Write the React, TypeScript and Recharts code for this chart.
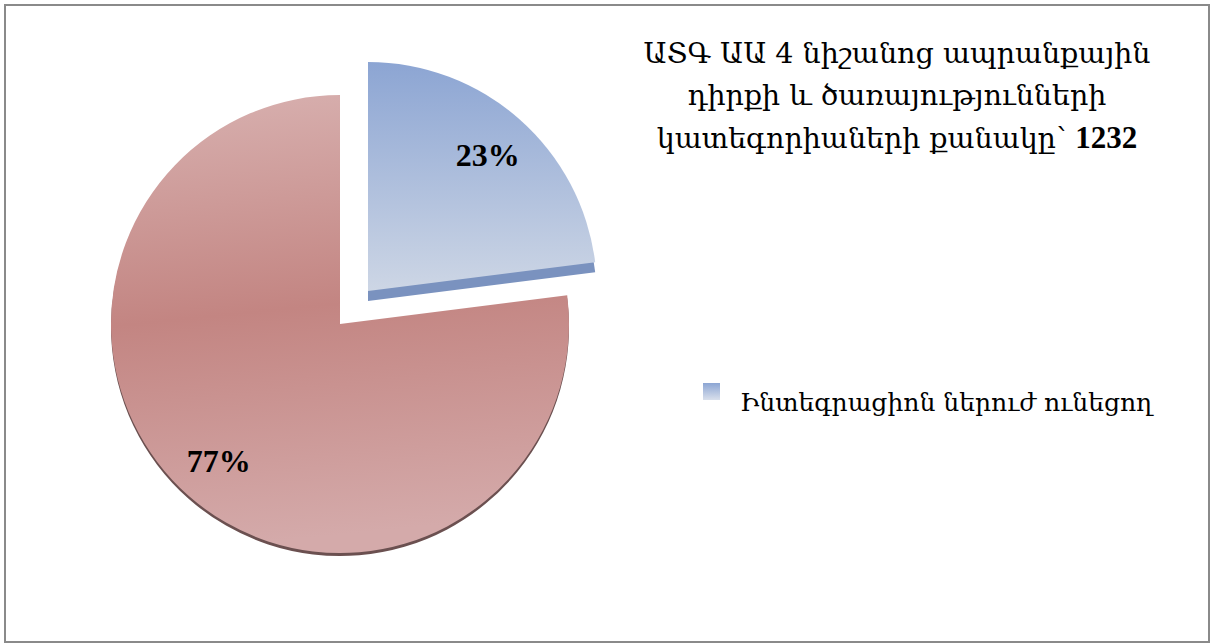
import React from 'react';
import { PieChart, Pie, Cell, Legend } from 'recharts';

const categories = ['Ինտեգրացիոն ներուժ ունեցող', 'Ինտեգրացիոն ներուժ չունեցող'];
const shares = [23, 77];
const titleLines = ['ԱՏԳ ԱԱ 4 նիշանոց ապրանքային', 'դիրքի և ծառայությունների', 'կատեգորիաների քանակը՝ '];
const titleTotal = '1232';

const data = categories.map((name, i) => ({ name, value: shares[i] }));

const ARM_FONT = '"DejaVu Serif", serif';
const RAD = Math.PI / 180;

const makeLabel = (visibleIndex: number, ratio: number) => (props: any) => {
  const { cx, cy, midAngle, outerRadius, index, value } = props;
  if (index !== visibleIndex) return null;
  const r = outerRadius * ratio;
  const x = cx + r * Math.cos(-midAngle * RAD);
  const y = cy + r * Math.sin(-midAngle * RAD);
  return (
    <text
      x={x}
      y={y}
      textAnchor="middle"
      dominantBaseline="central"
      fontFamily='"Liberation Serif", "Times New Roman", serif'
      fontWeight="bold"
      fontSize={32}
      fill="#000"
    >
      {`${value}%`}
    </text>
  );
};

const renderLegend = () => (
  <div style={{ position: 'relative', width: 480, height: 60 }}>
    <div
      style={{
        position: 'absolute',
        left: 3,
        top: 5,
        width: 17,
        height: 17,
        background: 'linear-gradient(#8CA5D3, #D9E0EC)',
      }}
    />
    <span
      style={{
        position: 'absolute',
        left: 40,
        top: 10,
        fontFamily: ARM_FONT,
        fontSize: 25,
        lineHeight: '30px',
        whiteSpace: 'nowrap',
        color: '#000',
      }}
    >
      {categories[0]}
    </span>
  </div>
);

const R = 229;
const RED_CX = 340;
const RED_CY = 324;
const BLUE_CX = 368;
const BLUE_CY = 291;

export default function App() {
  return (
    <div style={{ position: 'absolute', left: 0, top: 0, width: 1216, height: 644, background: '#fff' }}>
      <div
        style={{
          position: 'absolute',
          left: 4,
          top: 4,
          width: 1206,
          height: 639,
          border: '2px solid #8a8a8a',
          boxSizing: 'border-box',
        }}
      />
      <div
        style={{
          position: 'absolute',
          left: 597,
          top: 33,
          width: 600,
          textAlign: 'center',
          fontFamily: ARM_FONT,
          fontSize: 28.5,
          lineHeight: '42px',
          color: '#000',
        }}
      >
        <div>{titleLines[0]}</div>
        <div>{titleLines[1]}</div>
        <div>
          {titleLines[2]}
          <span style={{ fontFamily: '"Liberation Serif", serif', fontWeight: 'bold', fontSize: 31 }}>{titleTotal}</span>
        </div>
      </div>
      <div style={{ position: 'absolute', left: 0, top: 0 }}>
        <PieChart width={1216} height={644} margin={{ top: 0, right: 0, bottom: 0, left: 0 }}>
          <defs>
            <linearGradient id="redGrad" x1="0" y1="0" x2="0.1" y2="1">
              <stop offset="0%" stopColor="#D8B1B0" />
              <stop offset="50%" stopColor="#C38582" />
              <stop offset="100%" stopColor="#D4AAAA" />
            </linearGradient>
            <linearGradient id="blueGrad" x1="0" y1="0" x2="0" y2="1">
              <stop offset="0%" stopColor="#8CA5D3" />
              <stop offset="100%" stopColor="#CDD6E5" />
            </linearGradient>
          </defs>
          <Pie
            data={data}
            dataKey="value"
            cx={RED_CX}
            cy={RED_CY + 3}
            outerRadius={R}
            startAngle={90}
            endAngle={-270}
            isAnimationActive={false}
            stroke="none"
            legendType="none"
          >
            <Cell fill="transparent" />
            <Cell fill="#6B5050" />
          </Pie>
          <Pie
            data={data}
            dataKey="value"
            cx={RED_CX}
            cy={RED_CY}
            outerRadius={R}
            startAngle={90}
            endAngle={-270}
            isAnimationActive={false}
            stroke="none"
            labelLine={false}
            label={makeLabel(1, 0.8)}
            legendType="none"
          >
            <Cell fill="transparent" />
            <Cell fill="url(#redGrad)" />
          </Pie>
          <Pie
            data={data}
            dataKey="value"
            cx={BLUE_CX}
            cy={BLUE_CY + 10}
            outerRadius={R}
            startAngle={90}
            endAngle={-270}
            isAnimationActive={false}
            stroke="none"
            legendType="none"
          >
            <Cell fill="#7A92BF" />
            <Cell fill="transparent" />
          </Pie>
          <Pie
            data={data}
            dataKey="value"
            cx={BLUE_CX}
            cy={BLUE_CY}
            outerRadius={R}
            startAngle={90}
            endAngle={-270}
            isAnimationActive={false}
            stroke="none"
            labelLine={false}
            label={makeLabel(0, 0.79)}
            legendType="none"
          >
            <Cell fill="url(#blueGrad)" />
            <Cell fill="transparent" />
          </Pie>
          <Legend
            content={renderLegend}
            wrapperStyle={{ position: 'absolute', left: 700, top: 378, width: 480, height: 60, bottom: 'auto' }}
          />
        </PieChart>
      </div>
    </div>
  );
}
